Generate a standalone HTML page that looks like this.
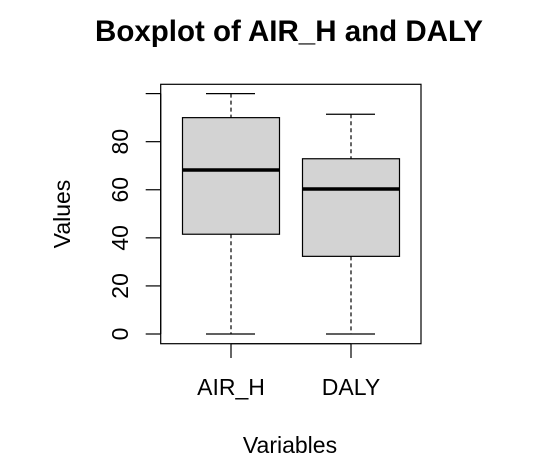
<!DOCTYPE html>
<html><head><meta charset="utf-8"><style>
body{margin:0;background:#fff}
svg{display:block;font-family:"Liberation Sans",Arial,sans-serif}
</style></head><body>
<svg id="c" width="553" height="466">
<text x="289" y="41" text-anchor="middle" font-size="29.5" font-weight="bold">Boxplot of AIR_H and DALY</text>
<rect x="160.7" y="84.3" width="260.3" height="259.4" fill="none" stroke="#000" stroke-width="1.2"/>
<g id="yaxis"></g>
<g id="xaxis"></g>
<g id="boxes"></g>
<text transform="translate(70,214) rotate(-90)" text-anchor="middle" font-size="23">Values</text>
<text x="290" y="453" text-anchor="middle" font-size="23">Variables</text>
</svg>
<script>
const categories=["AIR_H","DALY"];
const mins=[0,0];
const q1s=[41.5,32.3];
const medians=[68.2,60.3];
const q3s=[90,72.9];
const maxs=[100,91.4];
const yTicks=[0,20,40,60,80,100];
const yTickLabels=["0","20","40","60","80",""];
const NS="http://www.w3.org/2000/svg";
const y=v=>334-v*2.404;
const x=i=>231+i*120;
function mk(tag,attrs,parent){const e=document.createElementNS(NS,tag);for(const k in attrs)e.setAttribute(k,attrs[k]);parent.appendChild(e);return e;}
const ya=document.getElementById('yaxis'),xa=document.getElementById('xaxis'),bx=document.getElementById('boxes');
mk('line',{x1:160.7,x2:160.7,y1:y(0),y2:y(100),stroke:'#000','stroke-width':1.2},ya);
yTicks.forEach((t,i)=>{
 const l=mk('line',{x1:145.7,x2:160.7,y1:y(t),y2:y(t),stroke:'#000','stroke-width':1.2},ya);
 
 
 if(yTickLabels[i]){const tx=mk('text',{transform:`translate(128,${y(t)}) rotate(-90)`,'text-anchor':'middle','font-size':'23'},ya);tx.textContent=yTickLabels[i];
 
 }
});
mk('line',{x1:x(0),x2:x(categories.length-1),y1:343.7,y2:343.7,stroke:'#000'},xa);
categories.forEach((c,i)=>{
 const l=mk('line',{x1:x(i),x2:x(i),y1:343.7,y2:358,stroke:'#000','stroke-width':1.2},xa);
 
 
 const t=mk('text',{x:x(i),y:395,'text-anchor':'middle','font-size':'23'},xa);t.textContent=c;
 
 
 const g=mk('g',{},bx);
 
 
 mk('line',{x1:x(i),x2:x(i),y1:y(maxs[i]),y2:y(q3s[i]),stroke:'#000','stroke-dasharray':'4,3','stroke-width':1.2},g);
 mk('line',{x1:x(i),x2:x(i),y1:y(q1s[i]),y2:y(mins[i]),stroke:'#000','stroke-dasharray':'4,3','stroke-width':1.2},g);
 mk('line',{x1:x(i)-25,x2:x(i)+24,y1:y(maxs[i]),y2:y(maxs[i]),stroke:'#000','stroke-width':1.2},g);
 mk('line',{x1:x(i)-25,x2:x(i)+24,y1:y(mins[i]),y2:y(mins[i]),stroke:'#000','stroke-width':1.2},g);
 mk('rect',{x:x(i)-48.5,width:97,y:y(q3s[i]),height:y(q1s[i])-y(q3s[i]),fill:'#d3d3d3',stroke:'#000','stroke-width':1.2},g);
 mk('line',{x1:x(i)-48.5,x2:x(i)+48.5,y1:y(medians[i]),y2:y(medians[i]),stroke:'#000','stroke-width':3.5},g);
});
</script>
</body></html>
